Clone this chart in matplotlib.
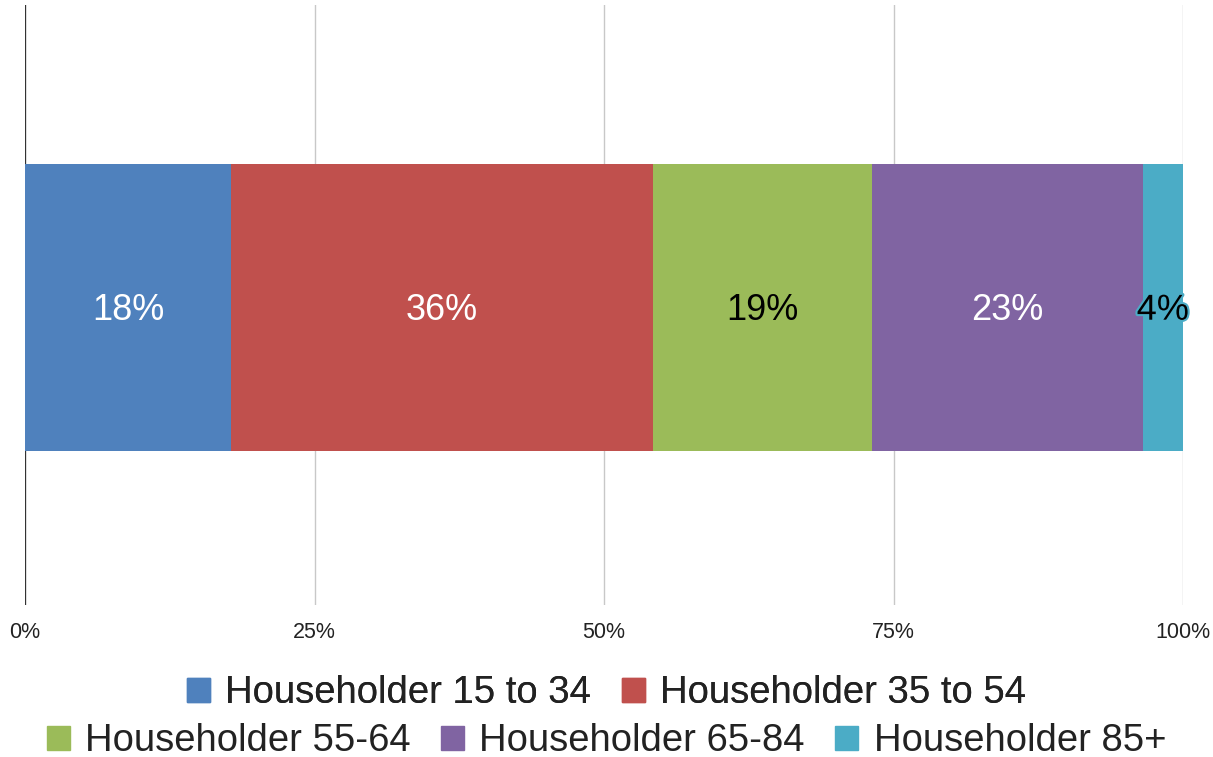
import matplotlib
matplotlib.use('Agg')
import matplotlib.pyplot as plt
import matplotlib.patheffects as pe
from matplotlib.patches import Patch

plt.rcParams['font.family'] = ['Liberation Sans', 'DejaVu Sans']

groups = ['Householder 15 to 34', 'Householder 35 to 54', 'Householder 55-64',
          'Householder 65-84', 'Householder 85+']
shares = [17.8, 36.4, 18.9, 23.4, 3.5]
labels = ['18%', '36%', '19%', '23%', '4%']
colors = ['#4F81BD', '#C0504D', '#9BBB59', '#8064A2', '#4BACC6']
text_colors = ['white', 'white', 'black', 'white', 'black']
ticks = [0, 25, 50, 75, 100]
tick_labels = ['0%', '25%', '50%', '75%', '100%']

fig = plt.figure(figsize=(12.13, 7.57), dpi=100)
ax = fig.add_axes([0.0206, 0.2008, 0.9547, 0.7926])

left = 0
for g, v, lab, c, tc in zip(groups, shares, labels, colors, text_colors):
    ax.barh(0, v, left=left, height=0.963, color=c, zorder=2)
    t = ax.text(left + v / 2, -0.01, lab, ha='center', va='center', color=tc,
                fontsize=26, zorder=3)
    if v < 5:
        # small segment: label spills over, outlined in the segment colour
        t.set_path_effects([pe.withStroke(linewidth=3, foreground=c)])
    left += v

ax.set_xlim(0, 100)
ax.set_ylim(-1, 1.015)
ax.set_xticks(ticks)
ax.set_xticklabels(tick_labels, fontsize=15.5)
ax.tick_params(axis='x', length=0, pad=12, colors='#222222')
ax.set_yticks([])
ax.set_axisbelow(True)
ax.grid(axis='x', color='#c8c8c8', linewidth=1)
for s in ['top', 'right', 'bottom', 'left']:
    ax.spines[s].set_visible(False)
ax.axvline(0, color='#333333', linewidth=1.6, zorder=1.5)

handles = [Patch(color=c) for c in colors]
leg_kw = dict(frameon=False, fontsize=27.5, handlelength=0.6, handleheight=0.6,
              handletextpad=0.4, columnspacing=0.8, labelcolor='#222222')
leg1 = fig.legend(handles[:2], groups[:2], loc='center', bbox_to_anchor=(0.5, 0.084),
                  ncol=2, **leg_kw)
fig.add_artist(leg1)
fig.legend(handles[2:], groups[2:], loc='center', bbox_to_anchor=(0.5, 0.021),
           ncol=3, **leg_kw)

fig.savefig('out.png', dpi=100)
